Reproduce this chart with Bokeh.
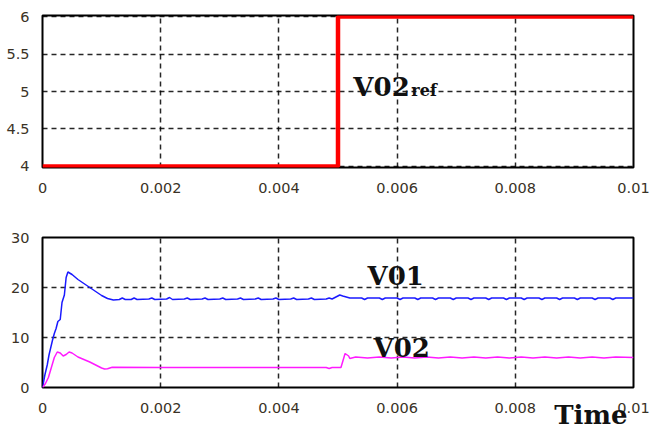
from bokeh.plotting import figure
from bokeh.layouts import column
from bokeh.models import FixedTicker, Label, Range1d, Title
from bokeh.embed import file_html
from bokeh.resources import INLINE

# ---------------- data ----------------
x_ticks = [0, 0.002, 0.004, 0.006, 0.008, 0.01]
x_tick_labels = ["0", "0.002", "0.004", "0.006", "0.008", "0.01"]
top_y_ticks = [4, 4.5, 5, 5.5, 6]
top_y_labels = ["4", "4.5", "5", "5.5", "6"]
bot_y_ticks = [0, 10, 20, 30]
bot_y_labels = ["0", "10", "20", "30"]
x_axis_title = "Time"

# reference step V02ref
t_ref = [0, 0.005, 0.005, 0.01]
v_ref = [4, 4, 6, 6]

# V01 (blue)
t_v01 = [0, 0.00004, 0.00008, 0.00011, 0.00014, 0.00017, 0.0002, 0.00023, 0.00026,
         0.0003, 0.00033, 0.00037, 0.0004, 0.00043, 0.0005, 0.0006, 0.0007, 0.0008,
         0.0009, 0.001, 0.0011, 0.0012, 0.0013, 0.00135, 0.0014, 0.0015, 0.00155,
         0.0016, 0.0018, 0.00185, 0.0019, 0.0021, 0.00215, 0.0022, 0.0024, 0.00245,
         0.0025, 0.0027, 0.00275, 0.0028, 0.003, 0.00305, 0.0031, 0.0033, 0.00335,
         0.0034, 0.0036, 0.00365, 0.0037, 0.0039, 0.00395, 0.004, 0.0042, 0.00425,
         0.0043, 0.0045, 0.00455, 0.0046, 0.0048, 0.00485, 0.0049, 0.00503, 0.00508,
         0.0052, 0.0054, 0.00545, 0.0055, 0.0057, 0.00575, 0.0058, 0.006, 0.00605,
         0.0061, 0.0063, 0.00635, 0.0064, 0.0066, 0.00665, 0.0067, 0.0069, 0.00695,
         0.007, 0.0072, 0.00725, 0.0073, 0.0075, 0.00755, 0.0076, 0.0078, 0.00785,
         0.0079, 0.0081, 0.00815, 0.0082, 0.0084, 0.00845, 0.0085, 0.0087, 0.00875,
         0.0088, 0.009, 0.00905, 0.0091, 0.0093, 0.00935, 0.0094, 0.0096, 0.00965,
         0.0097, 0.01]
v_v01 = [0, 2.5, 4.5, 6.5, 8.0, 9.5, 10.8, 11.8, 13.2,
         13.6, 17.0, 18.5, 22.0, 23.1, 22.6, 21.6, 20.8, 20.0,
         19.2, 18.4, 17.8, 17.5, 17.6, 17.9, 17.6, 17.6, 17.9,
         17.6, 17.7, 17.9, 17.6, 17.7, 18.0, 17.6, 17.7, 17.9,
         17.6, 17.7, 17.9, 17.6, 17.7, 17.9, 17.6, 17.7, 17.9,
         17.6, 17.7, 17.9, 17.6, 17.7, 17.9, 17.6, 17.7, 17.9,
         17.6, 17.7, 17.9, 17.6, 17.7, 17.9, 17.7, 18.5, 18.3,
         17.9, 17.9, 17.6, 17.9, 17.9, 17.6, 17.9, 17.9, 17.6,
         17.9, 17.9, 17.6, 17.9, 17.9, 17.6, 17.9, 17.9, 17.6,
         17.9, 17.9, 17.6, 17.9, 17.9, 17.6, 17.9, 17.9, 17.6,
         17.9, 17.9, 17.6, 17.9, 17.9, 17.6, 17.9, 17.9, 17.6,
         17.9, 17.9, 17.6, 17.9, 17.9, 17.6, 17.9, 17.9, 17.6,
         17.9, 17.9]

# V02 (magenta)
t_v02 = [0, 0.00005, 0.0001, 0.00015, 0.0002, 0.00025, 0.0003, 0.00035, 0.0004,
         0.00045, 0.0005, 0.0006, 0.0007, 0.0008, 0.0009, 0.001, 0.00105, 0.0011,
         0.00118, 0.002, 0.003, 0.004, 0.0048, 0.00485, 0.0049, 0.00505, 0.0051,
         0.00512, 0.00518, 0.0052, 0.0053, 0.0055, 0.0057, 0.0059, 0.0061, 0.0063,
         0.0065, 0.0067, 0.0069, 0.0071, 0.0073, 0.0075, 0.0077, 0.0079, 0.0081,
         0.0083, 0.0085, 0.0087, 0.0089, 0.0091, 0.0093, 0.0095, 0.0097, 0.01]
v_v02 = [0, 0.8, 2.0, 4.0, 6.0, 7.1, 6.9, 6.3, 6.6,
         7.1, 6.9, 6.1, 5.6, 5.1, 4.5, 3.9, 3.7, 3.75,
         4.05, 4.0, 4.0, 4.0, 4.0, 3.8, 4.0, 4.0, 6.0,
         6.8, 6.3, 5.8, 6.1, 5.9, 6.1, 5.9, 6.1, 5.9,
         6.1, 5.9, 6.1, 5.9, 6.1, 5.9, 6.1, 5.9, 6.1,
         5.9, 6.1, 5.9, 6.1, 5.9, 6.1, 5.9, 6.1, 6.0]

TICK_FONT = "DejaVu Sans"
TXT_FONT = "DejaVu Serif"


def style(p, yticks, ylabels):
    p.xaxis.ticker = FixedTicker(ticks=x_ticks)
    p.xaxis.major_label_overrides = {t: l for t, l in zip(x_ticks, x_tick_labels)}
    p.yaxis.ticker = FixedTicker(ticks=yticks)
    p.yaxis.major_label_overrides = {t: l for t, l in zip(yticks, ylabels)}
    for ax in (p.xaxis, p.yaxis):
        ax.axis_line_color = None
        ax.major_tick_line_color = None
        ax.minor_tick_line_color = None
        ax.major_label_text_font = TICK_FONT
        ax.major_label_text_font_size = "14.5px"
        ax.major_label_text_color = "#3a3226"
    p.xaxis.major_label_standoff = 9
    p.yaxis.major_label_standoff = 7
    for g in (p.xgrid, p.ygrid):
        g.grid_line_color = "black"
        g.grid_line_alpha = 0.85
        g.grid_line_width = 1.5
        g.grid_line_dash = "5 4"
    p.outline_line_color = "black"
    p.outline_line_width = 2
    p.outline_line_alpha = 1
    p.background_fill_color = "white"
    p.border_fill_color = "white"


def big_label(x, y, text, size="26px", dx=0, dy=10):
    return Label(x=x, y=y, x_offset=dx, y_offset=dy, text=text,
                 text_font=TXT_FONT, text_font_style="bold",
                 text_font_size=size, text_baseline="alphabetic",
                 text_color="#111")


p1 = figure(width=651, height=210, output_backend="svg", toolbar_location=None,
            x_range=Range1d(0, 0.01), y_range=Range1d(3.985, 6.015),
            min_border_left=42, min_border_right=18, min_border_top=15,
            min_border_bottom=43)
style(p1, top_y_ticks, top_y_labels)
p1.line(t_ref, v_ref, line_color="#ff0000", line_width=4.5)
p1.add_layout(big_label(0.00526, 4.92, "V02"))
p1.add_layout(big_label(0.00526, 4.92, "ref", size="16px", dx=58, dy=7))

p2 = figure(width=651, height=220, output_backend="svg", toolbar_location=None,
            x_range=Range1d(0, 0.01), y_range=Range1d(0, 30),
            min_border_left=42, min_border_right=18, min_border_top=27,
            min_border_bottom=43)
style(p2, bot_y_ticks, bot_y_labels)
p2.line(t_v01, v_v01, line_color="#1a1aff", line_width=1.5)
p2.line(t_v02, v_v02, line_color="#ff1aff", line_width=1.5)
p2.add_layout(big_label(0.0055, 20.4, "V01"))
p2.add_layout(big_label(0.0056, 6.0, "V02"))

time_title = Title(text=x_axis_title, align="right", vertical_align="top",
                   offset=6, standoff=-32,
                   text_font=TXT_FONT, text_font_style="bold",
                   text_font_size="26px", text_color="#111")
p2.add_layout(time_title, "below")

layout = column(p1, p2)
open("out.html", "w").write(file_html(layout, INLINE))
